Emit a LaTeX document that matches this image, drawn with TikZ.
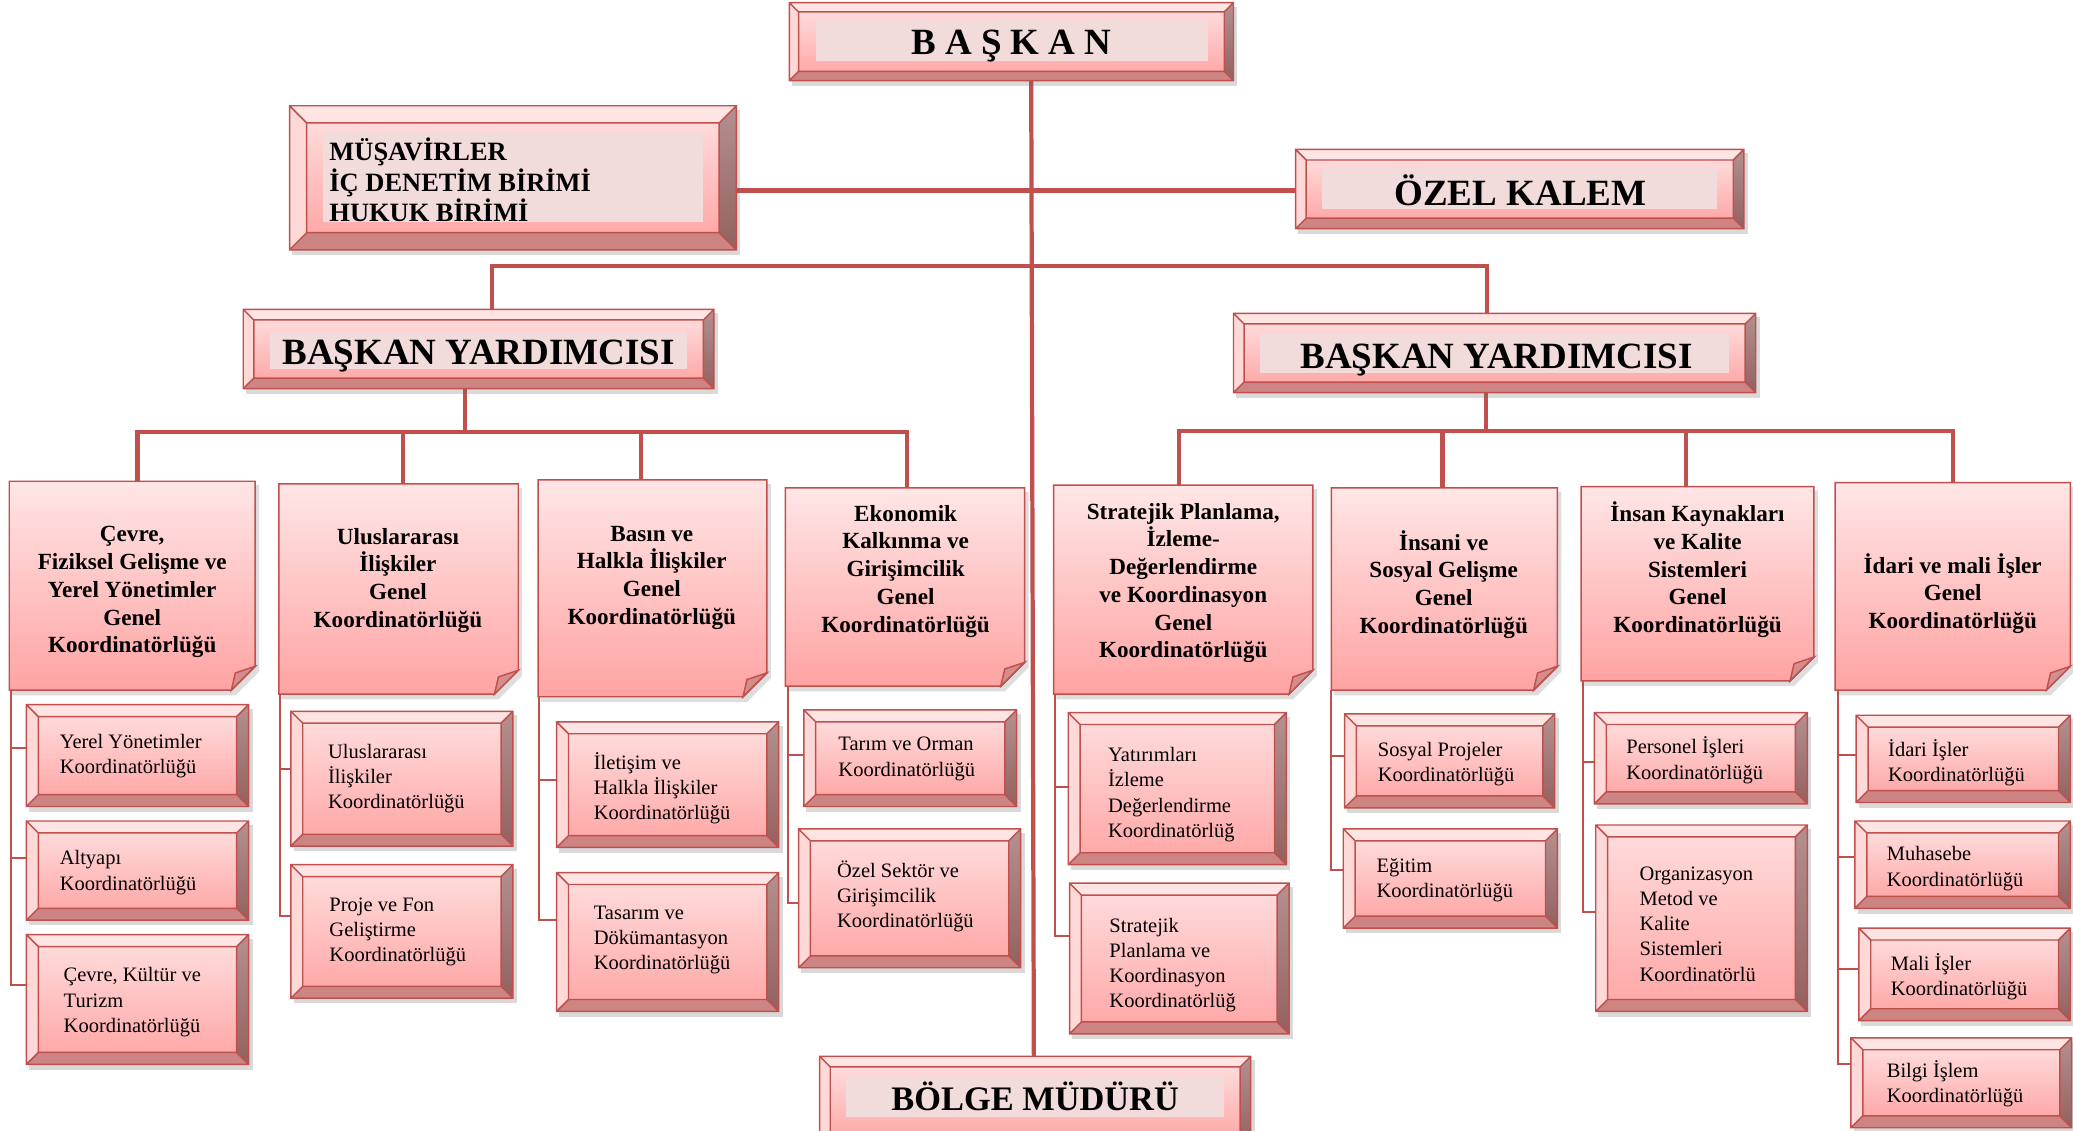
\documentclass[tikz,border=0pt]{standalone}
\usepackage{fontspec}
\setmainfont{Liberation Serif}
\usetikzlibrary{fit,backgrounds}
\definecolor{bord}{HTML}{C0504D}
\definecolor{topf}{HTML}{FFE4E4}
\definecolor{leftf}{HTML}{FFD8D8}
\definecolor{rightf}{HTML}{93615F}
\definecolor{botf}{HTML}{CD8583}
\definecolor{inT}{HTML}{FFDADA}
\definecolor{inB}{HTML}{FFA9A9}
\definecolor{noteT}{HTML}{FFE6E6}
\definecolor{noteB}{HTML}{FFA3A3}
\definecolor{foldc}{HTML}{D58D8B}
\definecolor{tbg}{HTML}{F2DCDB}
\newcommand{\notefont}{\fontsize{17.5}{21}\selectfont\bfseries}
\newcommand{\subfont}{\fontsize{15.5}{19}\selectfont}
\newcommand{\bigfont}{\fontsize{28}{30}\selectfont\bfseries}
\newcommand{\bevbox}[6]{%
 \fill[black!60,opacity=0.25] ({#2+2},{#3+3}) rectangle ({#4+3},{#5+4});
 \fill[topf] (#2,#3) -- (#4,#3) -- ({#4-#6},{#3+#6}) -- ({#2+#6},{#3+#6}) -- cycle;
 \fill[leftf] (#2,#3) -- ({#2+#6},{#3+#6}) -- ({#2+#6},{#5-#6}) -- (#2,#5) -- cycle;
 \shade[top color=rightf!70!white, bottom color=rightf] (#4,#3) -- (#4,#5) -- ({#4-#6},{#5-#6}) -- ({#4-#6},{#3+#6}) -- cycle;
 \fill[botf] (#2,#5) -- ({#2+#6},{#5-#6}) -- ({#4-#6},{#5-#6}) -- (#4,#5) -- cycle;
 \shade[top color=inT, bottom color=inB] ({#2+#6},{#3+#6}) rectangle ({#4-#6},{#5-#6});
 \draw[bord, line width=1.1] (#2,#3) rectangle (#4,#5) ({#2+#6},{#3+#6}) rectangle ({#4-#6},{#5-#6})
   (#2,#3) -- ({#2+#6},{#3+#6}) (#4,#3) -- ({#4-#6},{#3+#6}) (#2,#5) -- ({#2+#6},{#5-#6}) (#4,#5) -- ({#4-#6},{#5-#6});
 \coordinate (#1-nw) at (#2,#3); \coordinate (#1-se) at (#4,#5);
 \node[fit=(#1-nw)(#1-se), inner sep=0] (#1) {};
}
\newcommand{\notebox}[5]{%
 \fill[black!60,opacity=0.22] ({#2+2},{#3+3}) -- ({#4+3},{#3+3}) -- ({#4+3},{#5+4-18}) -- ({#4+3-18},{#5+4}) -- ({#2+2},{#5+4}) -- cycle;
 \shadedraw[top color=noteT, bottom color=noteB, draw=bord, line width=1.1] (#2,#3) -- (#4,#3) -- (#4,{#5-18}) -- ({#4-18},#5) -- (#2,#5) -- cycle;
 \filldraw[fill=foldc, draw=bord, line width=1.1] (#4,{#5-18}) -- ({#4-15},{#5-13}) -- ({#4-18},#5) -- cycle;
 \coordinate (#1-nw) at (#2,#3); \coordinate (#1-se) at (#4,#5);
 \node[fit=(#1-nw)(#1-se), inner sep=0] (#1) {};
}
\tikzset{
 nt/.style={align=center, font=\notefont, inner sep=0},
 st/.style={align=left, anchor=west, font=\subfont, inner sep=0},
 bt/.style={font=\bigfont, inner sep=0},
 conn/.style={draw=bord, line width=3.2},
 spine/.style={draw=bord, line width=1.5},
}
\begin{document}
\begin{tikzpicture}[x=1pt,y=-1pt]
\useasboundingbox (0,0) rectangle (1568,855);
\clip (0,0) rectangle (1568,855);
% top level boxes
\bevbox{baskan}{597}{2}{933}{61}{7}
\fill[tbg] (617,14) rectangle (914,46);
\bevbox{musav}{219}{80}{557}{189}{13}
\fill[tbg] (244,100) rectangle (532,168);
\bevbox{ozel}{980}{113}{1319}{173}{8}
\fill[tbg] (1000,127) rectangle (1299,158);
\bevbox{byl}{184}{234}{540}{294}{8}
\fill[tbg] (204,250) rectangle (520,279);
\bevbox{byr}{933}{237}{1328}{297}{8}
\fill[tbg] (953,253) rectangle (1308,282);
\bevbox{bolge}{620}{799}{946}{868}{8}
\fill[tbg] (640,814) rectangle (926,845);
% notes
\notebox{n1}{7}{364}{193}{522}
\notebox{n2}{211}{366}{392}{525}
\notebox{n3}{407}{363}{580}{527}
\notebox{n4}{594}{369}{775}{519}
\notebox{n5}{797}{367}{993}{525}
\notebox{n6}{1007}{369}{1178}{522}
\notebox{n7}{1196}{368}{1372}{515}
\notebox{n8}{1388}{365}{1566}{522}
% sub boxes
\bevbox{s1a}{20}{533}{188}{610}{9}
\bevbox{s1b}{20}{621}{188}{696}{9}
\bevbox{s1c}{20}{707}{188}{805}{9}
\bevbox{s2a}{220}{538}{388}{640}{9}
\bevbox{s2b}{220}{654}{388}{755}{9}
\bevbox{s3a}{421}{546}{589}{641}{9}
\bevbox{s3b}{421}{660}{589}{765}{9}
\bevbox{s4a}{608}{537}{769}{610}{9}
\bevbox{s4b}{604}{627}{772}{732}{9}
\bevbox{s5a}{808}{539}{973}{654}{9}
\bevbox{s5b}{809}{668}{975}{782}{9}
\bevbox{s6a}{1017}{540}{1176}{611}{9}
\bevbox{s6b}{1016}{627}{1178}{702}{9}
\bevbox{s7a}{1206}{539}{1367}{608}{9}
\bevbox{s7b}{1207}{624}{1367}{765}{9}
\bevbox{s8a}{1404}{541}{1566}{607}{9}
\bevbox{s8b}{1403}{621}{1566}{687}{9}
\bevbox{s8c}{1406}{702}{1566}{772}{9}
\bevbox{s8d}{1400}{785}{1567}{853}{9}
% texts
\node[bt] (tbaskan) at (765,35) {B A Ş K A N};
\node[inner sep=0, anchor=west, align=left, font=\fontsize{20}{23}\selectfont\bfseries] (tmusav) at (249,136) {MÜŞAVİRLER\\İÇ DENETİM BİRİMİ\\HUKUK BİRİMİ};
\node[bt] (tozel) at (1150,144) {ÖZEL KALEM};
\node[bt] (tbyl) at (362,269) {BAŞKAN YARDIMCISI};
\node[bt] (tbyr) at (1132,272) {BAŞKAN YARDIMCISI};
\node[bt, font=\fontsize{26}{28}\selectfont\bfseries] (tbolge) at (783,829) {BÖLGE MÜDÜRÜ};
\node[nt] (t1) at (100,448) {Çevre,\\Fiziksel Gelişme ve\\Yerel Yönetimler\\Genel\\Koordinatörlüğü};
\node[nt] (t2) at (301,439) {Uluslararası\\İlişkiler\\Genel\\Koordinatörlüğü};
\node[nt] (t3) at (493,437) {Basın ve\\Halkla İlişkiler\\Genel\\Koordinatörlüğü};
\node[nt] (t4) at (685,432) {Ekonomik\\Kalkınma ve\\Girişimcilik\\Genel\\Koordinatörlüğü};
\node[nt] (t5) at (895,441) {Stratejik Planlama,\\İzleme-\\Değerlendirme\\ve Koordinasyon\\Genel\\Koordinatörlüğü};
\node[nt] (t6) at (1092,442) {İnsani ve\\Sosyal Gelişme\\Genel\\Koordinatörlüğü};
\node[nt] (t7) at (1284,431) {İnsan Kaynakları\\ve Kalite\\Sistemleri\\Genel\\Koordinatörlüğü};
\node[nt] (t8) at (1477,449) {İdari ve mali İşler\\Genel\\Koordinatörlüğü};
\node[st] (u1a) at (45,572) {Yerel Yönetimler\\Koordinatörlüğü};
\node[st] (u1b) at (45,660) {Altyapı\\Koordinatörlüğü};
\node[st] (u1c) at (48,758) {Çevre, Kültür ve\\Turizm\\Koordinatörlüğü};
\node[st] (u2a) at (248,589) {Uluslararası\\İlişkiler\\Koordinatörlüğü};
\node[st] (u2b) at (249,705) {Proje ve Fon\\Geliştirme\\Koordinatörlüğü};
\node[st] (u3a) at (449,596) {İletişim ve\\Halkla İlişkiler\\Koordinatörlüğü};
\node[st] (u3b) at (449,711) {Tasarım ve\\Dökümantasyon\\Koordinatörlüğü};
\node[st] (u4a) at (634,574) {Tarım ve Orman\\Koordinatörlüğü};
\node[st] (u4b) at (633,678) {Özel Sektör ve\\Girişimcilik\\Koordinatörlüğü};
\node[st] (u5a) at (838,601) {Yatırımları\\İzleme\\Değerlendirme\\Koordinatörlüğ};
\node[st] (u5b) at (839,730) {Stratejik\\Planlama ve\\Koordinasyon\\Koordinatörlüğ};
\node[st] (u6a) at (1042,578) {Sosyal Projeler\\Koordinatörlüğü};
\node[st] (u6b) at (1041,666) {Eğitim\\Koordinatörlüğü};
\node[st] (u7a) at (1230,575) {Personel İşleri\\Koordinatörlüğü};
\node[st] (u7b) at (1240,699) {Organizasyon\\Metod ve\\Kalite\\Sistemleri\\Koordinatörlü};
\node[st] (u8a) at (1428,577) {İdari İşler\\Koordinatörlüğü};
\node[st] (u8b) at (1427,657) {Muhasebe\\Koordinatörlüğü};
\node[st] (u8c) at (1430,739) {Mali İşler\\Koordinatörlüğü};
\node[st] (u8d) at (1427,820) {Bilgi İşlem\\Koordinatörlüğü};
% connectors
\begin{scope}[on background layer]
\draw[conn] (baskan.south -| 780,0) -- (bolge.north -| 782,0);
\draw[conn] (musav.east |- 0,144) -- (ozel.west |- 0,144);
\draw[conn] (byl.north -| 372,0) -- (372,201) -- (1125,201) -- (byr.north -| 1125,0);
\draw[conn] (byl.south -| 352,0) -- (352,327);
\draw[conn] (n1.north -| 104,0) |- (686,327) -- (n4.north -| 686,0);
\draw[conn] (305,327) -- (n2.north -| 305,0);
\draw[conn] (485,327) -- (n3.north -| 485,0);
\draw[conn] (byr.south -| 1124,0) -- (1124,326);
\draw[conn] (n5.north -| 892,0) |- (1477,326) -- (n8.north -| 1477,0);
\draw[conn] (1091,326) -- (n6.north -| 1091,0);
\draw[conn] (1275,326) -- (n7.north -| 1275,0);
% spines
\draw[spine] (n1.south -| 8,0) |- (s1c.west |- 0,745);
\draw[spine] (8,566) -- (s1a.west |- 0,566);
\draw[spine] (8,649) -- (s1b.west |- 0,649);
\draw[spine] (n2.south -| 212,0) |- (s2b.west |- 0,693);
\draw[spine] (212,582) -- (s2a.west |- 0,582);
\draw[spine] (n3.south -| 408,0) |- (s3b.west |- 0,696);
\draw[spine] (408,590) -- (s3a.west |- 0,590);
\draw[spine] (n4.south -| 596,0) |- (s4b.west |- 0,683);
\draw[spine] (596,571) -- (s4a.west |- 0,571);
\draw[spine] (n5.south -| 798,0) |- (s5b.west |- 0,708);
\draw[spine] (798,595) -- (s5a.west |- 0,595);
\draw[spine] (n6.south -| 1007,0) |- (s6b.west |- 0,658);
\draw[spine] (1007,572) -- (s6a.west |- 0,572);
\draw[spine] (n7.south -| 1197,0) |- (s7b.west |- 0,690);
\draw[spine] (1197,576) -- (s7a.west |- 0,576);
\draw[spine] (n8.south -| 1390,0) |- (s8d.west |- 0,805);
\draw[spine] (1390,571) -- (s8a.west |- 0,571);
\draw[spine] (1390,648) -- (s8b.west |- 0,648);
\draw[spine] (1390,733) -- (s8c.west |- 0,733);
\end{scope}
\end{tikzpicture}
\end{document}
